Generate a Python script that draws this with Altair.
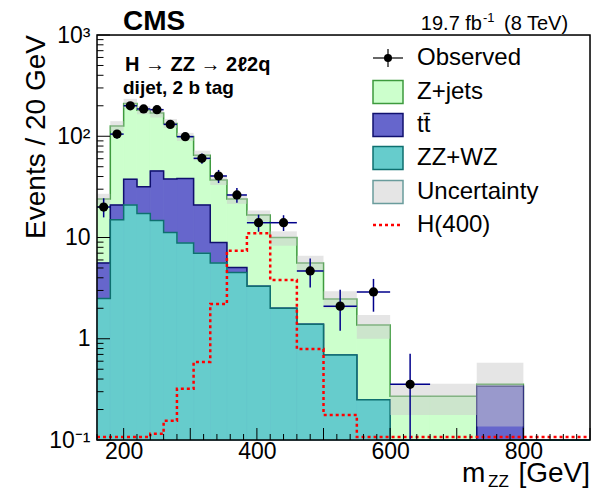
import altair as alt
import pandas as pd

# ---------------- data ----------------
edges = [160, 180, 200, 220, 240, 260, 280, 305, 330, 355, 385, 420, 460, 500, 550, 600, 660, 730, 800, 900]
zz_wz = [2.5, 15.0, 20.9, 17.3, 14.7, 11.2, 8.8, 7.0, 5.6, 4.5, 3.3, 2.0, 1.39, 0.69, 0.25, 0, 0, 0, 0]
ttbar = [3.1, 5.9, 16.7, 14.5, 30.8, 26.6, 29.4, 13.9, 3.3, 0.55, 0, 0, 0, 0, 0, 0, 0, 0.34, 0]
zjets = [18.4, 105, 173, 149, 124, 96, 61, 44, 28, 19, 13.4, 8.0, 4.2, 1.78, 1.12, 0.27, 0.27, 0.015, 0]
unc_lo = [21.5, 112, 189, 165, 153, 121, 90, 58, 33, 21.5, 14.5, 8.3, 4.6, 2.0, 1.0, 0.177, 0.177, 0.136, 0]
unc_hi = [27, 141, 234, 198, 186, 148, 108, 72, 41, 26.5, 18.5, 11.5, 6.6, 2.95, 1.72, 0.36, 0.36, 0.58, 0]
h400 = [0.107, 0.107, 0.107, 0.107, 0.115, 0.155, 0.32, 0.59, 2.2, 7.4, 11, 3.8, 0.79, 0.177,
        0.107, 0.107, 0.107, 0.107, 0.107]
obs = [20, 105, 200, 186, 183, 131, 99, 60.5, 40.5, 26.3, 14, 14, 4.67, 2.1, 2.9, 0.355]
obs_lo = [15.8, 95, 186, 173, 170, 120, 90, 53.5, 34.5, 22, 11.4, 11.6, 3.2, 1.2, 1.85, 0.1]
obs_hi = [24.4, 115, 214, 200, 197, 142, 108, 67.5, 46.5, 30.8, 16.8, 16.6, 6.2, 3.05, 3.9, 0.71]

x_label_vals = [200, 400, 600, 800]
y_label_vals = [0.1, 1, 10, 100, 1000]
y_label_text = ["10\u207b\u00b9", "1", "10", "10\u00b2", "10\u00b3"]

legend_labels = ["Observed", "Z+jets", "tt\u0304", "ZZ+WZ", "Uncertainty", "H(400)"]

# ---------------- styling ----------------
FONT = "Liberation Sans"
W, H = 493, 405
FLOOR = 0.1
C_ZJ, E_ZJ = "#ccffcc", "#3d9a3d"
C_TT, E_TT = "#6666cc", "#10106e"
C_ZZ, E_ZZ = "#66cccc", "#0e6f6f"
C_UNC = "#cccccc"
C_ERR = "#00008b"

xs = alt.Scale(domain=[160, 900], nice=False, zero=False)
ys = alt.Scale(type="log", domain=[0.1, 1000], nice=False, clamp=True)

xaxis = alt.Axis(values=x_label_vals, title=None, labelFont=FONT, labelFontSize=23,
                 labelColor="black", labelPadding=0, ticks=False, tickSize=0,
                 domain=False, grid=False, labelFlush=False, labelOverlap=False)
label_expr = " : ".join(
    [f"datum.value == {v} ? '{t}'" for v, t in zip(y_label_vals[:-1], y_label_text[:-1])]
) + f" : '{y_label_text[-1]}'"
yaxis = alt.Axis(values=y_label_vals, labelExpr=label_expr, title=None, labelFont=FONT,
                 labelFontSize=23, labelColor="black", labelPadding=7, ticks=False,
                 tickSize=0, domain=False, grid=False, labelFlush=False, labelOverlap=False)


def X(f):
    return alt.X(f, type="quantitative", scale=xs, axis=xaxis)


def Y(f):
    return alt.Y(f, type="quantitative", scale=ys, axis=yaxis)


def fl(v):
    return max(v, FLOOR)


lo = edges[:-1]
hi = edges[1:]
cum_zz = list(zz_wz)
cum_tt = [a + b for a, b in zip(zz_wz, ttbar)]
cum_all = [a + b + c for a, b, c in zip(zz_wz, ttbar, zjets)]

hist = pd.DataFrame({
    "lo": lo, "hi": hi, "base": [FLOOR] * len(lo),
    "zz": [fl(v) for v in cum_zz], "tt": [fl(v) for v in cum_tt], "all": [fl(v) for v in cum_all],
})


def step_df(vals):
    v = [fl(x) for x in vals]
    return pd.DataFrame({"x": edges, "y": v + [v[-1]]})


layers = []
for col, fill, edge, vals in [("all", C_ZJ, E_ZJ, cum_all), ("tt", C_TT, E_TT, cum_tt), ("zz", C_ZZ, E_ZZ, cum_zz)]:
    layers.append(alt.Chart(hist).mark_rect(color=fill, stroke=fill, strokeWidth=0.8)
                  .encode(x=X("lo"), x2="hi", y=Y(col), y2="base"))
    layers.append(alt.Chart(step_df(vals)).mark_line(interpolate="step-after", color=edge, strokeWidth=1.5)
                  .encode(x=X("x"), y=Y("y")))

unc = pd.DataFrame({"lo": lo, "hi": hi, "ulo": unc_lo, "uhi": unc_hi})
unc = unc[unc["uhi"] > 0]
layers.append(alt.Chart(unc).mark_rect(color=C_UNC, opacity=0.5).encode(x=X("lo"), x2="hi", y=Y("ulo"), y2="uhi"))

layers.append(alt.Chart(step_df(h400)).mark_line(interpolate="step-after", color="#ff0000", strokeWidth=2.5,
                                                 strokeDash=[3, 3]).encode(x=X("x"), y=Y("y")))

n = len(obs)
od = pd.DataFrame({"lo": lo[:n], "hi": hi[:n], "c": [(a + b) / 2 for a, b in zip(lo[:n], hi[:n])],
                   "v": obs, "elo": obs_lo, "ehi": obs_hi})
layers.append(alt.Chart(od).mark_rule(color=C_ERR, strokeWidth=1.5).encode(x=X("lo"), x2="hi", y=Y("v")))
layers.append(alt.Chart(od).mark_rule(color=C_ERR, strokeWidth=1.5).encode(x=X("c"), y=Y("elo"), y2="ehi"))
layers.append(alt.Chart(od).mark_circle(color="black", opacity=1, size=85).encode(x=X("c"), y=Y("v")))

# inward ticks
x_major = [200, 300, 400, 500, 600, 700, 800, 900]
x_minor = [v for v in range(160, 901, 20) if v % 100 != 0]
y_minor = [round(m * d, 6) for d in [0.1, 1, 10, 100] for m in range(2, 10)]
for vals, ln in [(x_major, 12), (x_minor, 6)]:
    layers.append(alt.Chart(pd.DataFrame({"v": vals})).mark_rule(color="black", strokeWidth=1)
                  .encode(x=X("v"), y=alt.value(H), y2=alt.value(H - ln)))
for vals, ln in [(y_label_vals, 13), (y_minor, 6.5)]:
    layers.append(alt.Chart(pd.DataFrame({"v": vals})).mark_rule(color="black", strokeWidth=1)
                  .encode(y=Y("v"), x=alt.value(0), x2=alt.value(ln)))

one = pd.DataFrame({"k": [0]})
# frame
layers.append(alt.Chart(one).mark_rect(fillOpacity=0, stroke="black", strokeWidth=1.5)
              .encode(x=alt.value(0), x2=alt.value(W), y=alt.value(0), y2=alt.value(H)))


def txt(s, x, y, size, bold=False, align="left", baseline="alphabetic", angle=0, color="black"):
    kw = dict(text=s, align=align, baseline=baseline, fontSize=size, font=FONT, color=color)
    if bold:
        kw["fontWeight"] = "bold"
    if angle:
        kw["angle"] = angle
    return alt.Chart(one).mark_text(**kw).encode(x=alt.value(x), y=alt.value(y))


# texts (view coords: origin at page (97, 35))
layers.append(txt("CMS", 26, -5, 28, bold=True))
layers.append(txt("19.7 fb", 385, -5, 20, align="right"))
layers.append(txt("-1", 386, -13, 13))
layers.append(txt("(8 TeV)", 407, -5, 20))
layers.append(txt("H \u2192 ZZ \u2192 2\u21132q", 28, 36, 20, bold=True))
layers.append(txt("dijet, 2 b tag", 26, 59, 19, bold=True))
layers.append(txt("Events / 20 GeV", -60, 102, 28, align="center", baseline="middle", angle=270))
layers.append(txt("m", 365, 447, 28))
layers.append(txt("ZZ", 391, 452, 17))
layers.append(txt("[GeV]", 493, 447, 28, align="right"))

# legend
ly = [23, 57, 90, 123, 157, 190]
bx0, bx1 = 276, 306
boxes = [(C_ZJ, E_ZJ), (C_TT, E_TT), (C_ZZ, E_ZZ), ("#e5e5e5", "#6a9c9c")]
for i, (fill, edge) in enumerate(boxes):
    yc = ly[i + 1]
    layers.append(alt.Chart(one).mark_rect(color=fill, stroke=edge, strokeWidth=1.5)
                  .encode(x=alt.value(bx0), x2=alt.value(bx1), y=alt.value(yc - 11.5), y2=alt.value(yc + 11.5)))
layers.append(alt.Chart(one).mark_rule(color="black", strokeWidth=1.2)
              .encode(x=alt.value(bx0), x2=alt.value(bx1), y=alt.value(ly[0])))
layers.append(alt.Chart(one).mark_rule(color="black", strokeWidth=1.2)
              .encode(x=alt.value((bx0 + bx1) / 2), y=alt.value(ly[0] - 9), y2=alt.value(ly[0] + 9)))
layers.append(alt.Chart(one).mark_circle(color="black", opacity=1, size=65)
              .encode(x=alt.value((bx0 + bx1) / 2), y=alt.value(ly[0])))
layers.append(alt.Chart(one).mark_rule(color="#ff0000", strokeWidth=2.5, strokeDash=[3, 3])
              .encode(x=alt.value(bx0), x2=alt.value(bx1), y=alt.value(ly[5])))
for lab, yc in zip(legend_labels, ly):
    layers.append(txt(lab, 320, yc, 24, baseline="middle"))

chart = alt.layer(*layers).properties(
    width=W, height=H,
    autosize=alt.AutoSizeParams(type="none"),
    padding={"left": 89, "top": 27, "right": 7, "bottom": 51},
).configure_view(stroke=None).configure(background="white")

chart.save("out.html", embed_options={"renderer": "svg", "actions": False})
